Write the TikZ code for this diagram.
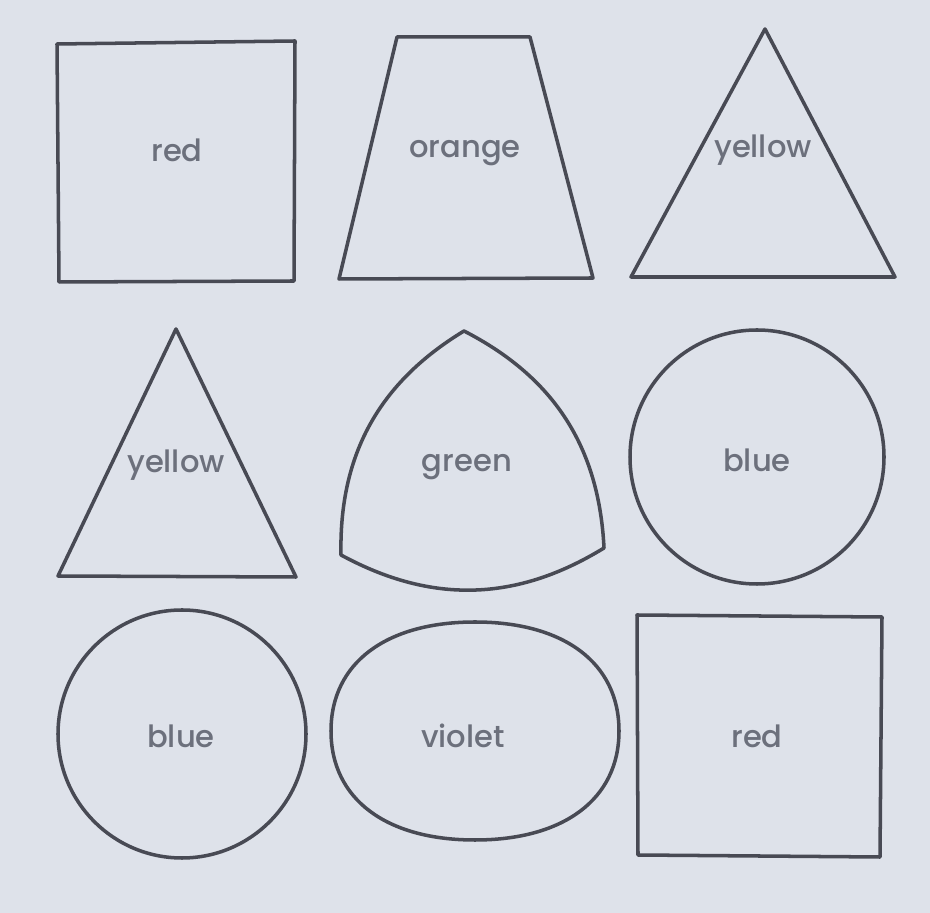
\documentclass[tikz,border=0pt]{standalone}
\usepackage{fontspec}
\setmainfont{Poppins}[UprightFont={* Medium}]
\usetikzlibrary{positioning}
\definecolor{paper}{RGB}{222,226,234}
\definecolor{ink}{RGB}{72,74,84}
\definecolor{lbl}{RGB}{108,112,124}

\begin{document}
\begin{tikzpicture}[x=0.01cm,y=-0.01cm,
  outline/.style={draw=ink,line width=1pt,line join=round},
  lab/.style={text=lbl,font=\fontsize{8.7}{10}\selectfont,inner sep=0pt,anchor=base}]
\fill[paper] (0,0) rectangle (930,913);
\useasboundingbox (0,0) rectangle (930,913);
% top row
\draw[outline] (57,44) -- (295,41) -- (294,281) -- (59,282) -- cycle;
\draw[outline] (397,37) -- (530,37) -- (593,278) -- (339,279) -- cycle;
\draw[outline] (765,29) -- (895,277) -- (631,277) -- cycle;
\node[lab] (red1) at (177,162) {red};
\node[lab] (orange) at (465,158) {orange};
\node[lab] (yellow1) at (763,158) {yellow};
% middle row
\draw[outline] (176,329) -- (296,577) -- (58,576) -- cycle;
\draw[outline] (464,331) to[bend left=30] (604,548) to[bend left=30] (341,555) to[bend left=30] cycle;
\draw[outline] (757,457) circle (127);
\node[lab] (yellow2) at (176,473) {yellow};
\node[lab] (green) at (467,472) {green};
\node[lab] (blue1) at (757,472) {blue};
% bottom row
\draw[outline] (182,734) circle (124);
\draw[outline] (619,731) .. controls (619,799) and (564,840) .. (475,840)
  .. controls (386,840) and (331,799) .. (331,731)
  .. controls (331,663) and (386,622) .. (475,622)
  .. controls (564,622) and (619,663) .. cycle;
\draw[outline] (637,615) -- (882,617) -- (880,857) -- (638,855) -- cycle;
\node[lab] (blue2) at (181,748) {blue};
\node[lab] (violet) at (463,748) {violet};
\node[lab] (red2) at (757,748) {red};
\end{tikzpicture}
\end{document}
